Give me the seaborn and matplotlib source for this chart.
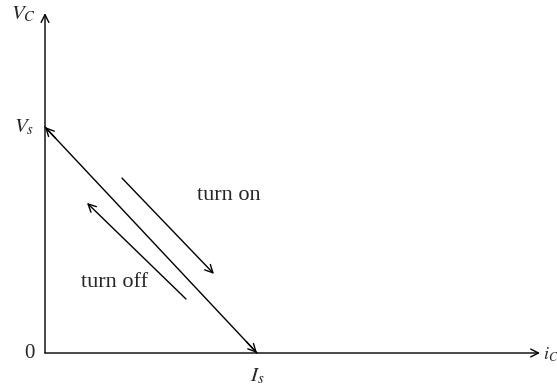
import numpy as np
import pandas as pd
import matplotlib
matplotlib.use("Agg")
import matplotlib.pyplot as plt
import seaborn as sns

# load line end points (normalised: Vs = 1, Is = 1)
vs = 1.0
i_s = 1.0
line_i = [0.0, i_s]
line_v = [vs, 0.0]

# switching path arrows (start, end)
turn_on_start = (0.363, 0.774)
turn_on_end = (0.797, 0.350)
turn_off_start = (0.665, 0.239)
turn_off_end = (0.198, 0.664)

axis_x_end = 2.335
axis_y_end = 1.504

sns.set_theme(style="white")
plt.rcParams["mathtext.fontset"] = "stix"
plt.rcParams["font.family"] = ["Liberation Serif", "DejaVu Serif"]

fig = plt.figure(figsize=(5.57, 3.87), dpi=100)
ax = fig.add_axes([0, 0, 1, 1])
ax.set_xlim(-45 / 212, (557 - 45) / 212)
ax.set_ylim(-(387 - 353) / 226, 353 / 226)
ax.axis("off")

arrow_kw = dict(arrowstyle="->", color="black", lw=1.0, mutation_scale=14,
                shrinkA=0, shrinkB=0)

# axes
ax.annotate("", xy=(axis_x_end, 0), xytext=(0, 0), arrowprops=arrow_kw)
ax.annotate("", xy=(0, axis_y_end), xytext=(0, 0), arrowprops=arrow_kw)

# load line, arrow heads at both ends
df = pd.DataFrame({"i": line_i, "v": line_v})
sns.lineplot(data=df, x="i", y="v", ax=ax, color="black", lw=1.0)
ax.annotate("", xy=(0, vs), xytext=(0.05, vs - 0.05 * vs / i_s), arrowprops=arrow_kw)
ax.annotate("", xy=(i_s, 0), xytext=(i_s - 0.05, 0.05 * vs / i_s), arrowprops=arrow_kw)

ax.annotate("", xy=turn_on_end, xytext=turn_on_start, arrowprops=arrow_kw)
ax.annotate("", xy=turn_off_end, xytext=turn_off_start, arrowprops=arrow_kw)

fs = 15
ax.text(0.868, 0.695, "turn on", fontsize=16, ha="center", va="center")
ax.text(0.330, 0.314, "turn off", fontsize=16, ha="center", va="center")

ax.text(-0.045, axis_y_end - 0.005, "$V_C$", fontsize=fs, ha="right", va="center")
ax.text(-0.05, vs, "$V_s$", fontsize=fs, ha="right", va="center")
ax.text(-0.05, 0, "0", fontsize=fs, ha="right", va="center")
ax.text(i_s, -0.06, "$I_s$", fontsize=fs, ha="center", va="top")
ax.text(axis_x_end + 0.012, -0.01, "$i_C$", fontsize=13, ha="left", va="center")

fig.savefig("out.png", dpi=100)
